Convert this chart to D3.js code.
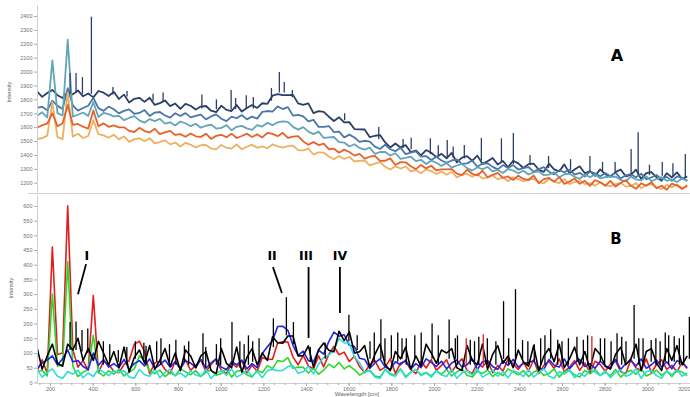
<!DOCTYPE html>
<html>
<head>
<meta charset="utf-8">
<script src="https://cdn.jsdelivr.net/npm/d3@7"></script>
<style>
  body { margin: 0; background: #fff; }
  text { font-family: "Liberation Sans", Arial, sans-serif; }
</style>
</head>
<body>
<svg id="chart" width="690" height="397"></svg>
<script>
// sampling grid of the spectra (cm-1)
const wavenumbers = [
  139,163,187,211,235,259,283,307,331,355,379,403,427,451,475,499,
  523,547,571,595,619,643,667,691,715,739,763,787,811,835,859,883,
  907,931,955,979,1003,1027,1051,1075,1099,1123,1147,1171,1195,1219,1243,1267,
  1291,1315,1339,1363,1387,1411,1435,1459,1483,1507,1531,1555,1579,1603,1627,1651,
  1675,1699,1723,1747,1771,1795,1819,1843,1867,1891,1915,1939,1963,1987,2011,2035,
  2059,2083,2107,2131,2155,2179,2203,2227,2251,2275,2299,2323,2347,2371,2395,2419,
  2443,2467,2491,2515,2539,2563,2587,2611,2635,2659,2683,2707,2731,2755,2779,2803,
  2827,2851,2875,2899,2923,2947,2971,2995,3019,3043,3067,3091,3115,3139,3163,3187
];

// panel A
const navyA = [
  1858,1818,1846,1868,1830,1810,1852,1836,1864,1822,1842,1814,1860,1848,1824,1854,
  1803,1834,1777,1804,1811,1782,1811,1760,1773,1792,1751,1770,1731,1768,1754,1727,
  1748,1752,1718,1708,1754,1724,1716,1759,1712,1737,1759,1738,1772,1768,1826,1837,
  1830,1831,1832,1771,1761,1771,1701,1715,1710,1675,1644,1671,1634,1636,1586,1584,
  1583,1528,1538,1543,1490,1454,1482,1454,1471,1420,1432,1396,1435,1416,1384,1408,
  1376,1414,1346,1381,1391,1358,1395,1336,1354,1378,1331,1356,1311,1358,1339,1306,
  1334,1338,1293,1278,1337,1296,1282,1332,1267,1295,1318,1268,1284,1249,1296,1262,
  1244,1276,1295,1246,1257,1294,1227,1269,1277,1239,1214,1269,1238,1275,1226,1245
];
const blueA = [
  1741,1746,1721,1790,1753,1730,1880,1757,1719,1738,1754,1810,1737,1717,1748,1729,
  1699,1717,1728,1696,1702,1723,1681,1705,1709,1684,1668,1700,1680,1701,1670,1681,
  1690,1656,1677,1692,1660,1643,1676,1664,1687,1656,1676,1661,1710,1716,1712,1749,
  1730,1744,1683,1688,1678,1642,1653,1602,1602,1608,1564,1568,1526,1546,1525,1494,
  1502,1496,1460,1443,1473,1441,1427,1452,1406,1417,1425,1388,1392,1364,1387,1360,
  1344,1360,1368,1335,1339,1359,1315,1338,1340,1314,1296,1327,1306,1327,1295,1305,
  1313,1278,1298,1312,1279,1260,1291,1275,1294,1258,1271,1245,1280,1268,1247,1269,
  1246,1273,1230,1253,1261,1240,1265,1226,1238,1256,1225,1242,1213,1245,1235,1215
];
const tealA = [
  1682,1707,1670,2080,1701,1684,2230,1676,1689,1705,1680,1780,1673,1703,1694,1677,
  1681,1650,1666,1679,1649,1632,1658,1643,1659,1625,1635,1612,1640,1628,1607,1624,
  1596,1610,1618,1590,1595,1614,1578,1602,1609,1591,1580,1615,1604,1631,1614,1635,
  1642,1638,1602,1582,1600,1568,1550,1568,1522,1527,1529,1492,1489,1461,1477,1450,
  1438,1453,1407,1421,1421,1396,1412,1372,1378,1387,1355,1365,1335,1359,1344,1321,
  1342,1309,1324,1336,1305,1287,1312,1297,1314,1281,1292,1270,1299,1288,1268,1286,
  1259,1274,1282,1254,1258,1276,1239,1261,1265,1243,1228,1257,1240,1259,1232,1241,
  1242,1244,1219,1212,1244,1224,1217,1246,1211,1227,1240,1214,1222,1205,1230,1212
];
const lightOrangeA = [
  1513,1520,1539,1780,1528,1514,1850,1532,1552,1522,1536,1650,1549,1541,1524,1545,
  1512,1534,1494,1514,1519,1499,1520,1484,1493,1505,1476,1489,1461,1487,1474,1454,
  1470,1472,1447,1440,1472,1452,1445,1475,1441,1459,1474,1451,1462,1448,1476,1461,
  1452,1464,1467,1434,1433,1446,1403,1419,1417,1389,1369,1393,1371,1385,1353,1357,
  1360,1325,1338,1348,1315,1295,1318,1302,1317,1282,1291,1268,1296,1284,1263,1280,
  1258,1279,1238,1258,1263,1243,1264,1229,1239,1252,1224,1238,1211,1239,1228,1209,
  1226,1228,1203,1196,1227,1206,1198,1226,1190,1205,1217,1190,1197,1179,1203,1184,
  1174,1190,1199,1172,1177,1197,1161,1184,1189,1168,1154,1184,1168,1188,1162,1172
];
const orangeA = [
  1596,1614,1625,1700,1607,1628,1760,1617,1623,1603,1590,1720,1606,1627,1602,1613,
  1598,1599,1573,1565,1595,1572,1562,1588,1550,1563,1573,1544,1550,1531,1554,1534,
  1530,1553,1515,1537,1545,1528,1553,1522,1536,1553,1529,1548,1526,1558,1551,1535,
  1559,1523,1532,1536,1497,1473,1492,1471,1481,1441,1445,1416,1438,1421,1395,1408,
  1374,1387,1393,1357,1358,1375,1328,1348,1347,1318,1298,1327,1303,1322,1288,1296,
  1296,1298,1265,1254,1293,1264,1252,1286,1239,1257,1271,1235,1245,1220,1251,1227,
  1219,1252,1197,1226,1235,1208,1240,1192,1208,1230,1192,1214,1178,1218,1204,1178,
  1213,1172,1198,1218,1178,1156,1196,1178,1204,1160,1178,1149,1194,1180,1154,1182
];
// narrow spikes of the top spectrum: [wavenumber, base, top]
const spikesA = [
  [294,1840,1990],[322,1845,1990],[352,1840,1960],[394,1840,2395],[495,1835,1889],
  [561,1820,1860],[683,1790,1840],[730,1780,1850],[912,1735,1834],[980,1730,1800],
  [1049,1725,1867],[1070,1730,1810],[1120,1735,1830],[1153,1735,1817],[1238,1790,1881],
  [1275,1850,1997],[1298,1850,1925],[1336,1815,1867],[1581,1650,1700],[1741,1515,1601],
  [1855,1450,1514],[1893,1440,1523],[1983,1405,1520],[2020,1395,1470],[2062,1385,1508],
  [2090,1380,1460],[2142,1375,1471],[2222,1360,1523],[2316,1345,1520],[2372,1335,1558],
  [2450,1325,1400],[2537,1305,1392],[2640,1295,1370],[2731,1280,1392],[2790,1275,1350],
  [2849,1268,1349],[2924,1260,1442],[2957,1258,1564],[3010,1255,1330],[3070,1250,1349],
  [3120,1245,1340],[3178,1240,1406]
];

// panel B
const blackB = [
  120,45,90,130,65,55,130,110,150,75,115,75,140,100,60,105,
  50,120,35,85,110,65,125,45,75,115,55,100,40,110,90,50,
  90,105,40,30,115,65,50,120,35,85,115,60,100,75,155,135,
  133,158,158,90,91,124,52,111,134,109,104,174,142,172,100,104,
  125,50,95,130,60,40,105,80,120,45,90,55,130,100,65,110,
  100,115,50,40,125,75,60,130,45,95,125,65,90,50,110,70,
  55,125,40,90,115,70,130,50,80,120,60,105,45,115,95,55,
  45,95,120,60,80,130,40,105,115,65,40,115,75,125,60,90
];
const redB = [
  38,77,30,460,95,100,600,110,52,74,41,295,33,72,61,38,
  33,61,74,130,140,105,30,66,72,44,30,72,49,77,41,58,
  77,36,61,80,41,30,66,52,74,33,58,38,85,78,79,134,
  138,137,86,60,92,56,46,90,53,96,122,94,103,71,89,54,
  33,61,74,41,52,80,30,66,72,44,30,72,49,77,41,58,
  77,36,61,80,41,30,66,52,74,33,58,38,80,63,44,69,
  38,77,30,58,72,47,80,36,52,74,41,66,33,72,61,38,
  63,72,36,30,77,49,41,80,33,61,77,44,58,36,69,47
];
const greenB = [
  36,41,22,300,55,60,410,55,20,35,44,160,34,22,40,28,
  44,22,35,46,90,75,38,30,42,20,34,23,46,36,26,40,
  20,35,42,24,30,46,18,38,41,26,18,41,33,57,47,74,
  71,84,48,52,51,32,48,28,42,62,50,68,46,57,43,25,
  36,41,22,18,44,29,24,46,20,35,44,26,34,22,40,28,
  44,22,35,46,24,18,38,30,42,20,34,23,46,36,26,40,
  20,35,42,24,30,46,18,38,41,26,18,41,29,44,24,34,
  23,44,18,34,41,28,46,22,30,42,24,38,20,41,35,23
];
const blueB = [
  46,66,76,90,60,80,110,70,74,54,44,100,58,78,52,64,
  50,78,44,64,74,56,80,48,60,76,52,70,46,74,66,50,
  78,48,66,80,52,44,70,60,76,46,64,50,98,121,142,190,
  191,177,126,92,106,74,70,110,96,139,171,157,162,126,122,82,
  78,48,66,80,52,44,70,60,76,46,64,50,80,68,54,72,
  46,66,76,52,60,80,44,70,74,54,44,74,58,78,52,64,
  68,74,48,44,78,58,52,80,46,66,78,54,64,48,72,56,
  50,78,44,64,74,56,80,48,60,76,52,70,46,74,66,50
];
const cyanB = [
  44,18,34,46,21,14,37,28,42,16,32,20,46,35,23,39,
  35,40,18,14,44,26,21,46,16,34,44,23,32,18,39,25,
  20,44,14,32,40,25,46,18,28,42,21,37,16,40,44,40,
  41,54,57,31,36,54,29,62,85,93,109,150,134,134,86,67,
  35,40,18,14,44,26,21,46,16,34,44,23,32,18,39,25,
  20,44,14,32,40,25,46,18,28,42,21,37,16,40,34,20,
  44,18,34,46,21,14,37,28,42,16,32,20,46,35,23,39,
  16,34,42,21,28,46,14,37,40,23,14,40,26,44,21,32
];
const spikesBlackB = [
  [294,110,205],[322,110,207],[350,105,178],[377,100,183],[450,60,140],[480,70,130],
  [520,70,110],[560,60,120],[600,80,140],[640,80,135],[650,60,125],[700,70,140],
  [720,60,150],[760,70,130],[790,60,145],[830,70,125],[850,60,140],[917,60,167],
  [930,50,120],[980,60,130],[1000,60,150],[1053,60,205],[1090,50,140],[1110,60,130],
  [1130,60,160],[1150,70,140],[1180,70,150],[1247,120,218],[1308,160,290],[1341,130,205],
  [1420,70,120],[1490,80,135],[1601,140,230],[1640,110,160],[1700,80,140],[1720,70,170],
  [1751,80,215],[1770,70,150],[1800,80,160],[1830,70,170],[1850,80,150],[1870,60,150],
  [1910,80,160],[1940,60,170],[1991,80,200],[2020,60,160],[2071,80,214],[2100,80,150],
  [2110,60,160],[2170,60,145],[2190,70,140],[2210,60,155],[2250,60,150],[2290,60,140],
  [2326,80,276],[2350,60,150],[2382,80,317],[2415,80,144],[2440,60,140],[2470,70,130],
  [2500,60,150],[2520,60,160],[2547,80,181],[2580,60,145],[2600,70,140],[2630,60,150],
  [2670,70,155],[2700,60,145],[2720,60,160],[2780,70,150],[2800,60,150],[2830,60,140],
  [2858,70,167],[2880,60,155],[2900,70,140],[2938,80,263],[2960,60,150],[2980,70,150],
  [3018,70,144],[3040,60,150],[3060,60,140],[3084,70,170],[3100,60,160],[3126,70,157],
  [3150,60,150],[3170,60,160],[3197,80,223]
];
const spikesRedB = [[2151,60,150],[2231,60,164],[2740,60,157]];

// ticks
const yTicksA = [1200,1300,1400,1500,1600,1700,1800,1900,2000,2100,2200,2300,2400];
const yTicksB = [0,50,100,150,200,250,300,350,400,450,500,550,600];
const xTicks = [200,400,600,800,1000,1200,1400,1600,1800,2000,2200,2400,2600,2800,3000,3200];

const svg = d3.select('#chart');

const x = d3.scaleLinear().domain([139, 3200]).range([37, 690]);
const yA = d3.scaleLinear().domain([1126, 2479]).range([193, 5]);
const yB = d3.scaleLinear().domain([-2, 637]).range([383, 195]);

const defs = svg.append('defs');
defs.append('clipPath').attr('id', 'clipA').append('rect')
  .attr('x', 37).attr('y', 0).attr('width', 653).attr('height', 193);
defs.append('clipPath').attr('id', 'clipB').append('rect')
  .attr('x', 37).attr('y', 194).attr('width', 653).attr('height', 189);

function styleAxis(g) {
  g.select('.domain').attr('stroke', '#cfcfcf');
  g.selectAll('.tick line').attr('stroke', '#aaa');
  g.selectAll('.tick text').attr('fill', '#707070').style('font-size', '5.5px');
}

function drawSpectra(clipId, y, width, series, spikes) {
  const g = svg.append('g').attr('clip-path', 'url(#' + clipId + ')');
  const line = d3.line().x((d, i) => x(wavenumbers[i])).y(d => y(d));
  series.forEach(s => {
    g.append('path')
      .attr('d', line(s.values))
      .attr('fill', 'none')
      .attr('stroke', s.color)
      .attr('stroke-width', width)
      .attr('stroke-linejoin', 'round');
  });
  spikes.forEach(s => {
    g.selectAll(null)
      .data(s.values)
      .enter()
      .append('line')
      .attr('x1', d => x(d[0])).attr('x2', d => x(d[0]))
      .attr('y1', d => y(d[1])).attr('y2', d => y(d[2]))
      .attr('stroke', s.color)
      .attr('stroke-width', 1.3);
  });
}

// Panel A
drawSpectra('clipA', yA, 1.8, [
  { values: navyA, color: '#2b3f66' },
  { values: blueA, color: '#4a77a8' },
  { values: tealA, color: '#62a5b9' },
  { values: lightOrangeA, color: '#eeb060' },
  { values: orangeA, color: '#e6622a' }
], [{ values: spikesA, color: '#2b3f66' }]);

// Panel B
drawSpectra('clipB', yB, 1.6, [
  { values: redB, color: '#e41c1c' },
  { values: greenB, color: '#2ad82a' },
  { values: blueB, color: '#2424e0' },
  { values: cyanB, color: '#2fdcd6' },
  { values: blackB, color: '#000' }
], [
  { values: spikesRedB, color: '#e41c1c' },
  { values: spikesBlackB, color: '#000' }
]);

// axes
const fmt = d3.format('d');

svg.append('g')
  .attr('transform', 'translate(37,0)')
  .call(d3.axisLeft(yA).tickValues(yTicksA).tickFormat(fmt).tickSize(3).tickSizeOuter(0).tickPadding(1.5))
  .call(styleAxis);

svg.append('line')
  .attr('x1', 28).attr('x2', 690)
  .attr('y1', yA.range()[0] + 0.5).attr('y2', yA.range()[0] + 0.5)
  .attr('stroke', '#d2d2d2');

svg.append('g')
  .attr('transform', 'translate(37,0)')
  .call(d3.axisLeft(yB).tickValues(yTicksB).tickFormat(fmt).tickSize(3).tickSizeOuter(0).tickPadding(1.5))
  .call(styleAxis);

svg.append('g')
  .attr('transform', 'translate(0,383)')
  .call(d3.axisBottom(x).tickValues(d3.range(150, 3200, 50)).tickSize(2).tickSizeOuter(0).tickFormat(''))
  .call(styleAxis);

svg.append('g')
  .attr('transform', 'translate(0,383)')
  .call(d3.axisBottom(x).tickValues(xTicks).tickFormat(fmt).tickSize(3).tickSizeOuter(0).tickPadding(1.5))
  .call(styleAxis)
  .call(g => g.select('.domain').remove())
  .call(g => g.selectAll('.tick text').filter(d => d === 3200).attr('text-anchor', 'end'));

// axis titles
svg.append('text')
  .attr('transform', 'translate(11,92) rotate(-90)')
  .attr('text-anchor', 'middle')
  .attr('fill', '#606060').style('font-size', '5.5px')
  .text('Intensity');
svg.append('text')
  .attr('transform', 'translate(13,288) rotate(-90)')
  .attr('text-anchor', 'middle')
  .attr('fill', '#606060').style('font-size', '5.5px')
  .text('Intensity');
svg.append('text')
  .attr('x', 357).attr('y', 396)
  .attr('text-anchor', 'middle')
  .attr('fill', '#606060').style('font-size', '6px')
  .text('Wavelength [cm]');

// panel letters
svg.append('text')
  .attr('x', x(2858)).attr('y', yA(2076))
  .attr('text-anchor', 'middle')
  .style('font-family', '"DejaVu Sans", sans-serif').style('font-weight', 'bold').style('font-size', '16px')
  .text('A');
svg.append('text')
  .attr('x', x(2853)).attr('y', yB(470))
  .attr('text-anchor', 'middle')
  .style('font-family', '"DejaVu Sans", sans-serif').style('font-weight', 'bold').style('font-size', '15px')
  .text('B');

// band markers in panel B
const marks = [
  { label: 'I', tx: 373, x1: 369, y1: 402, x2: 331, y2: 300 },
  { label: 'II', tx: 1241, x1: 1245, y1: 392, x2: 1287, y2: 304 },
  { label: 'III', tx: 1400, x1: 1412, y1: 392, x2: 1412, y2: 151 },
  { label: 'IV', tx: 1559, x1: 1559, y1: 392, x2: 1559, y2: 236 }
];
marks.forEach(m => {
  svg.append('text')
    .attr('x', x(m.tx)).attr('y', yB(416))
    .attr('text-anchor', 'middle')
    .style('font-family', '"DejaVu Sans", sans-serif').style('font-weight', 'bold').style('font-size', '12.5px')
    .text(m.label);
  svg.append('line')
    .attr('x1', x(m.x1)).attr('y1', yB(m.y1))
    .attr('x2', x(m.x2)).attr('y2', yB(m.y2))
    .attr('stroke', '#000').attr('stroke-width', 1.8);
});
</script>
</body>
</html>
